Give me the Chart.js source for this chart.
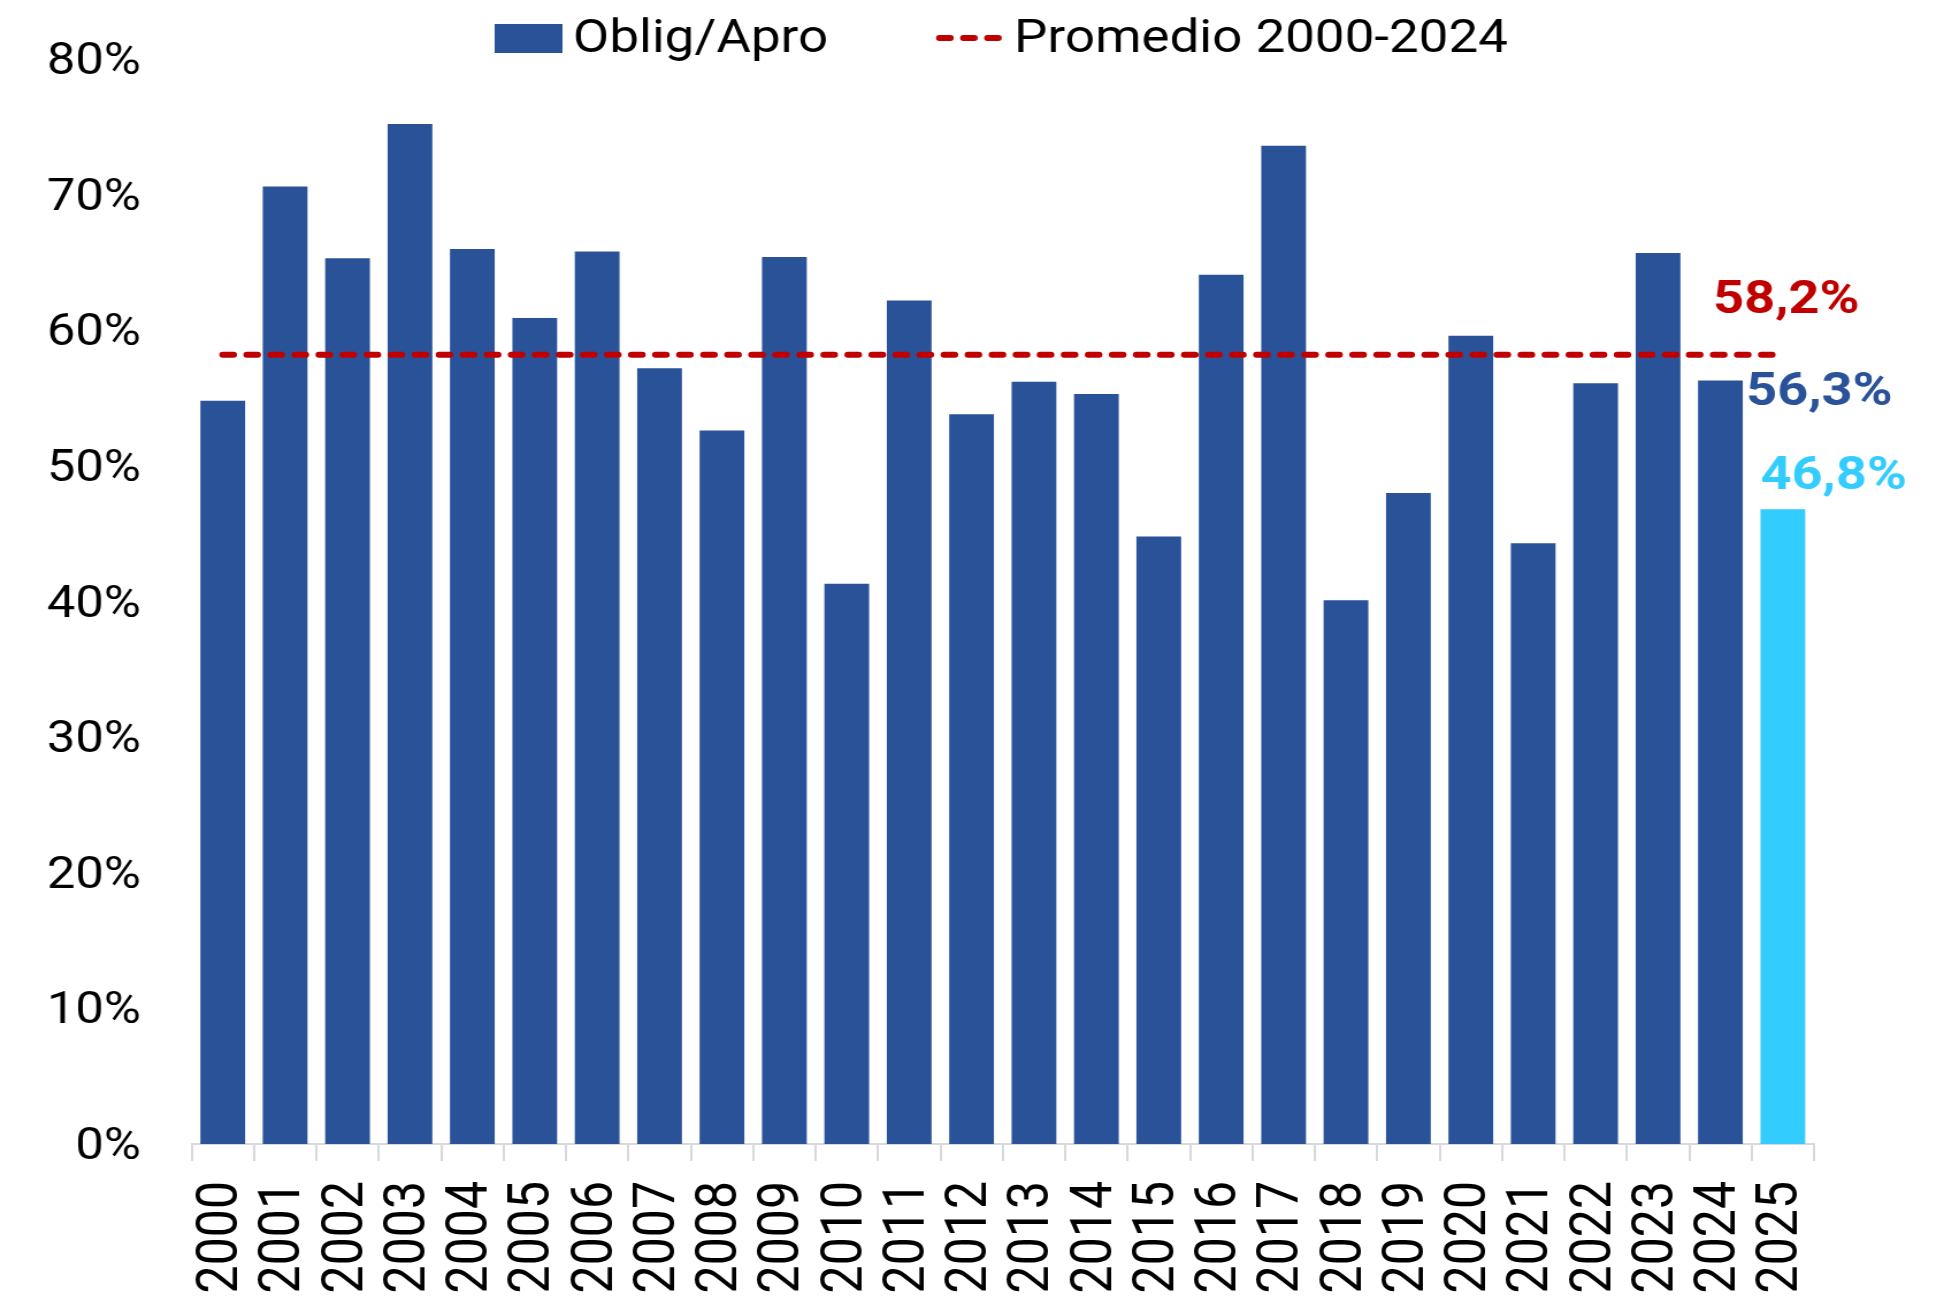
<!DOCTYPE html>
<html>
<head>
<meta charset="utf-8">
<script src="https://cdn.jsdelivr.net/npm/chart.js@4.4.1/dist/chart.umd.min.js"></script>
<style>
html,body{margin:0;padding:0;background:#fff;overflow:hidden;}
#c{display:block;width:1944px;height:1302px;}
</style>
</head>
<body>
<canvas id="c" width="1690" height="1302" style="width:1944px;height:1302px"></canvas>
<script>
// ---- data ----
const categories = ['2000','2001','2002','2003','2004','2005','2006','2007','2008','2009',
  '2010','2011','2012','2013','2014','2015','2016','2017','2018','2019',
  '2020','2021','2022','2023','2024','2025'];
const obligApro = [54.8, 70.6, 65.3, 75.2, 66.0, 60.9, 65.8, 57.2, 52.6, 65.4,
  41.3, 62.2, 53.8, 56.2, 55.3, 44.8, 64.1, 73.6, 40.1, 48.0,
  59.6, 44.3, 56.1, 65.7, 56.3, 46.8];
const promedio = [58.2, 58.2, 58.2, 58.2, 58.2, 58.2, 58.2, 58.2, 58.2, 58.2,
  58.2, 58.2, 58.2, 58.2, 58.2, 58.2, 58.2, 58.2, 58.2, 58.2,
  58.2, 58.2, 58.2, 58.2, 58.2, 58.2];
const yTicks = [0, 10, 20, 30, 40, 50, 60, 70, 80];
const seriesNames = ['Oblig/Apro', 'Promedio 2000-2024'];

// ---- styles ----
const DARK = '#295298';
const LIGHT = '#33CCFF';
const RED = '#C00000';
const FONT = 'Roboto';
const fmt = v => v.toFixed(1).replace('.', ',') + '%';

const legendPlugin = {
  id: 'customLegend',
  afterDraw(chart) {
    const ctx = chart.ctx;
    ctx.save();
    ctx.fillStyle = chart.data.datasets[0].backgroundColor[0];
    ctx.fillRect(430, 24, 59, 29);
    ctx.font = '46px ' + FONT;
    ctx.fillStyle = '#000';
    ctx.textAlign = 'left';
    ctx.textBaseline = 'middle';
    ctx.fillText(chart.data.datasets[0].label, 498, 40);
    const ds1 = chart.data.datasets[1];
    ctx.strokeStyle = ds1.borderColor;
    ctx.lineWidth = ds1.borderWidth;
    ctx.lineCap = 'round';
    ctx.setLineDash(ds1.borderDash);
    ctx.beginPath();
    ctx.moveTo(816.7, 38);
    ctx.lineTo(868, 38);
    ctx.stroke();
    ctx.setLineDash([]);
    ctx.fillText(ds1.label, 881.5, 40);
    ctx.restore();
  }
};

const valueLabels = {
  id: 'valueLabels',
  afterDatasetsDraw(chart) {
    const ctx = chart.ctx;
    const n = categories.length;
    const m0 = chart.getDatasetMeta(0);
    const m1 = chart.getDatasetMeta(1);
    const barPrev = m0.data[n - 2];
    const barLast = m0.data[n - 1];
    const lineEnd = m1.data[n - 1];
    ctx.save();
    ctx.font = 'bold 47px ' + FONT;
    ctx.textBaseline = 'middle';
    ctx.textAlign = 'center';
    ctx.fillStyle = RED;
    ctx.fillText(fmt(promedio[n - 1]), lineEnd.x + 3, lineEnd.y - 53);
    ctx.textAlign = 'left';
    ctx.fillStyle = DARK;
    ctx.fillText(fmt(obligApro[n - 2]), barPrev.x + barPrev.width / 2 + 3, barPrev.y + 13);
    ctx.fillStyle = LIGHT;
    ctx.fillText(fmt(obligApro[n - 1]), barLast.x - barLast.width / 2, barLast.y - 32);
    ctx.restore();
  }
};

function make() {
  new Chart(document.getElementById('c'), {
    type: 'bar',
    data: {
      labels: categories,
      datasets: [
        {
          type: 'bar',
          label: seriesNames[0],
          data: obligApro,
          backgroundColor: categories.map((c, i) => i === categories.length - 1 ? LIGHT : DARK),
          borderWidth: 0,
          barPercentage: 0.717,
          categoryPercentage: 1,
          order: 2
        },
        {
          type: 'line',
          label: seriesNames[1],
          data: promedio,
          borderColor: RED,
          borderWidth: 6,
          borderDash: [9.4, 11.5],
          borderCapStyle: 'round',
          pointRadius: 0,
          pointHoverRadius: 0,
          fill: false,
          tension: 0,
          order: 1
        }
      ]
    },
    options: {
      responsive: false,
      animation: false,
      devicePixelRatio: 1,
      layout: { padding: { top: 59, right: 113, left: 0, bottom: 0 } },
      plugins: { legend: { display: false }, tooltip: { enabled: false } },
      scales: {
        x: {
          offset: true,
          grid: { display: true, drawOnChartArea: false, drawTicks: true, tickLength: 17, color: '#d9d9d9', lineWidth: 2, offset: true },
          border: { display: true, color: '#d9d9d9', width: 2 },
          ticks: { minRotation: 90, maxRotation: 90, autoSkip: false, padding: 20, color: '#000', font: { family: FONT, size: 50 } },
          afterFit(s) { s.height = 158; s.paddingLeft = 0; s.paddingRight = 0; }
        },
        y: {
          min: 0, max: 80,
          grid: { display: false, drawTicks: false },
          border: { display: false },
          afterBuildTicks(s) { s.ticks = yTicks.map(v => ({ value: v })); },
          ticks: { padding: 44, labelOffset: 4, color: '#000', font: { family: FONT, size: 44 }, callback: v => v + '%' },
          afterFit(s) { s.width = 166.5; s.paddingTop = 0; s.paddingBottom = 0; }
        }
      }
    },
    plugins: [legendPlugin, valueLabels]
  });
}

if (document.fonts && document.fonts.load) {
  Promise.all([
    document.fonts.load('44px Roboto'),
    document.fonts.load('bold 47px Roboto')
  ]).then(make, make);
} else {
  make();
}
</script>
</body>
</html>
